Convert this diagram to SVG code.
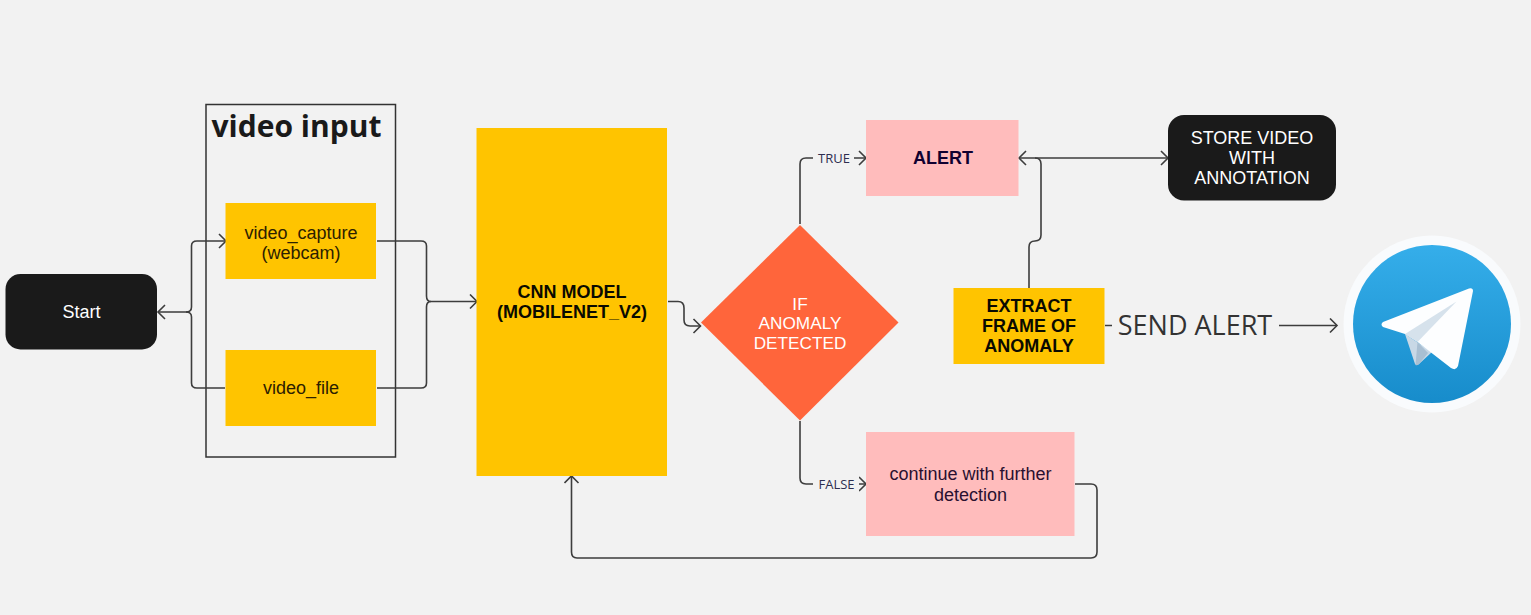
<svg xmlns="http://www.w3.org/2000/svg" width="1531" height="615" viewBox="0 0 1531 615">
<style>
.t{font-family:"Liberation Sans",Arial,sans-serif;font-size:18px;text-anchor:middle}
.d{font-size:17.2px}
.b{font-weight:bold}
.o{font-family:"Open Sans",sans-serif;text-anchor:middle}
.c{fill:none;stroke:#3d3d3d;stroke-width:1.6}
.y{fill:#ffc400}
.p{fill:#ffbcbc}
.k{fill:#1a1a1a}
</style>
<defs>
<marker id="a" markerUnits="userSpaceOnUse" markerWidth="12" markerHeight="16" refX="10" refY="8" orient="auto-start-reverse"><path d="M3 1L10 8L3 15" fill="none" stroke="#3d3d3d" stroke-width="1.6"/></marker>
<linearGradient id="tg" x1="0" y1="0" x2="0" y2="1"><stop offset="0" stop-color="#35aeea"/><stop offset="1" stop-color="#178ccb"/></linearGradient>
</defs>
<rect width="1531" height="615" fill="#f2f2f2"/>
<g id="video-input"><rect x="206" y="104.500" width="189.500" height="352.500" fill="none" stroke="#333" stroke-width="1.500"/><text class="o" x="296.500" y="136.500" font-size="30" font-weight="bold" fill="#1a1a1a">video input</text></g>
<g id="connectors">
<path class="c" marker-end="url(#a)" d="M377 241H421Q426.500 241 426.500 246V296Q426.500 301.500 431 301.500H477"/>
<path class="c" d="M377 388H421Q426.500 388 426.500 383V307Q426.500 301.500 431 301.500"/>
<path class="c" marker-start="url(#a)" marker-end="url(#a)" d="M158 312H186Q191.500 312 191.500 307V246Q191.500 241 197 241H226"/>
<path class="c" d="M186 312Q191.500 312 191.500 317V383Q191.500 388 197 388H225"/>
<path class="c" marker-end="url(#a)" d="M668 301.500H678Q684 301.500 684 308V320Q684 326 690 326H700.500"/>
<path class="c" marker-end="url(#a)" d="M800 224V164Q800 158 806 158H866"/>
<path class="c" marker-end="url(#a)" d="M800 421V478Q800 484 806 484H866"/>
<path class="c" marker-end="url(#a)" d="M1075 484H1091Q1097 484 1097 490V552Q1097 558 1091 558H577Q571.500 558 571.500 552V476"/>
<path class="c" marker-start="url(#a)" marker-end="url(#a)" d="M1019 158H1168"/>
<path class="c" d="M1029 288V247Q1029 241 1035 241Q1041 241 1041 235V164Q1041 158 1035 158"/>
<path class="c" marker-end="url(#a)" d="M1105 325.500H1112M1279 325.500H1337"/>
</g>
<g id="start"><rect class="k" x="5.500" y="274" width="151.500" height="75.500" rx="15"/><text class="t" x="81.500" y="317.500" fill="#fff">Start</text></g>
<g id="video-capture"><rect class="y" x="225.500" y="203" width="150.500" height="76"/><text class="t" x="301" y="238.500" fill="#2c2000">video_capture</text><text class="t" x="301" y="258.500" fill="#2c2000">(webcam)</text></g>
<g id="video-file"><rect class="y" x="225.500" y="350" width="150.500" height="76"/><text class="t" x="301" y="393.500" fill="#2c2000">video_file</text></g>
<g id="cnn"><rect class="y" x="476.500" y="128" width="190.500" height="348"/><text class="t b" x="572" y="297.500" fill="#0a0a00">CNN MODEL</text><text class="t b" x="572" y="318" fill="#0a0a00">(MOBILENET_V2)</text></g>
<g id="decision"><path d="M800 225L898.500 322.500L800 420.500L701 322.500Z" fill="#ff653b"/><text class="t d" x="800" y="310" fill="#fff">IF</text><text class="t d" x="800" y="329" fill="#fff">ANOMALY</text><text class="t d" x="800" y="349" fill="#fff">DETECTED</text></g>
<g id="alert"><rect class="p" x="866" y="120" width="152.500" height="76"/><text class="t b" x="943" y="163.500" fill="#100030">ALERT</text></g>
<g id="store"><rect class="k" x="1168" y="115" width="168" height="85.500" rx="16"/><text class="t" x="1252" y="144" fill="#fff">STORE VIDEO</text><text class="t" x="1252" y="164" fill="#fff">WITH</text><text class="t" x="1252" y="184" fill="#fff">ANNOTATION</text></g>
<g id="extract"><rect class="y" x="953.500" y="288" width="151" height="76"/><text class="t b" x="1029" y="312" fill="#0a0a00">EXTRACT</text><text class="t b" x="1029" y="332" fill="#0a0a00">FRAME OF</text><text class="t b" x="1029" y="352" fill="#0a0a00">ANOMALY</text></g>
<g id="continue"><rect class="p" x="866" y="432" width="208.500" height="104"/><text class="t" x="970.500" y="480" fill="#2a1030">continue with further</text><text class="t" x="970.500" y="501" fill="#2a1030">detection</text></g>
<g id="labels">
<rect x="813" y="148" width="41" height="20" fill="#f2f2f2"/><text class="o" x="834" y="163" font-size="13" fill="#2e2e50">TRUE</text>
<rect x="813" y="474" width="46" height="20" fill="#f2f2f2"/><text class="o" x="836.500" y="489" font-size="13" fill="#2e2e50">FALSE</text>
<text class="o" x="1195" y="335" font-size="27" fill="#333">SEND ALERT</text>
</g>
<g id="telegram">
<circle cx="1432" cy="324" r="88.500" fill="#f9fbfd"/>
<circle cx="1432" cy="324" r="79" fill="url(#tg)"/>
<path d="M1405 334L1415 364Q1417 366 1419 364L1432 352Z" fill="#c8d8e6"/>
<path d="M1417.500 342L1415.500 365Q1417 366 1419 364L1428 353Z" fill="#a9bfd2"/>
<path d="M1383 322L1469 288.500Q1473 287.500 1473 291L1458 366Q1456 371 1451 368L1417.500 342L1405 334L1383 327Q1380 324.500 1383 322Z" fill="#fdfeff"/>
<path d="M1405 334L1456.500 301.500L1417.500 342Z" fill="#d6e2ec"/>
</g>
</svg>
